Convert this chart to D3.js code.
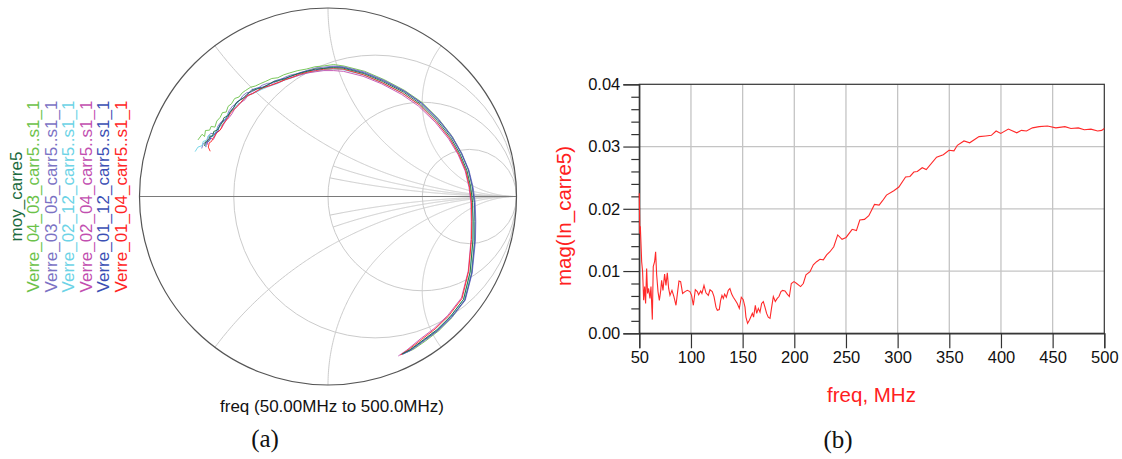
<!DOCTYPE html>
<html><head><meta charset="utf-8">
<script src="https://cdn.jsdelivr.net/npm/d3@7"></script>
<style>
html,body{margin:0;padding:0;background:#fff;}
svg{display:block;}
text{font-family:"Liberation Sans",Arial,sans-serif;}
</style></head>
<body>
<svg id="c" width="1122" height="459"></svg>
<script>
// ---------------- DATA ----------------
const seriesNames = ["moy_carre5","Verre_04_03_carr5..s1_1","Verre_03_05_carr5..s1_1","Verre_02_12_carr5..s1_1","Verre_02_04_carr5..s1_1","Verre_01_12_carr5..s1_1","Verre_01_04_carr5..s1_1"];
const seriesColors = ["#1d6b3e","#6cc24a","#7b72c4","#6cd3e6","#c24fb0","#3b4fb4","#ff2424"];

// Smith chart traces: reflection coefficient [re, im], 50 MHz -> 500 MHz
const moy_carre5 = [[-0.655,0.268],[-0.650,0.290],[-0.632,0.300],[-0.628,0.318],[-0.612,0.322],[-0.606,0.345],[-0.588,0.352],[-0.578,0.368],[-0.560,0.395],[-0.552,0.418],[-0.532,0.428],[-0.520,0.445],[-0.500,0.472],[-0.486,0.497],[-0.466,0.512],[-0.448,0.522],[-0.428,0.543],[-0.402,0.562],[-0.376,0.571],[-0.348,0.576],[-0.320,0.593],[-0.290,0.608],[-0.258,0.616],[-0.228,0.624],[-0.198,0.639],[-0.155,0.652],[-0.110,0.664],[-0.068,0.676],[-0.025,0.679],[0.028,0.684],[0.080,0.681],[0.190,0.652],[0.290,0.610],[0.400,0.554],[0.490,0.491],[0.580,0.403],[0.650,0.314],[0.700,0.227],[0.737,0.139],[0.757,0.051],[0.767,-0.031],[0.770,-0.131],[0.769,-0.231],[0.754,-0.401],[0.719,-0.546],[0.650,-0.636],[0.578,-0.707],[0.506,-0.761],[0.435,-0.813],[0.392,-0.836]];
const verre_04_03 = [[-0.690,0.300],[-0.668,0.330],[-0.655,0.318],[-0.650,0.350],[-0.628,0.352],[-0.620,0.372],[-0.600,0.368],[-0.590,0.400],[-0.572,0.420],[-0.560,0.445],[-0.540,0.448],[-0.530,0.478],[-0.512,0.492],[-0.495,0.520],[-0.472,0.528],[-0.455,0.550],[-0.438,0.562],[-0.410,0.580],[-0.386,0.586],[-0.356,0.600],[-0.330,0.611],[-0.298,0.626],[-0.266,0.630],[-0.236,0.645],[-0.205,0.655],[-0.160,0.668],[-0.115,0.676],[-0.070,0.688],[-0.020,0.693],[0.030,0.700],[0.085,0.692],[0.195,0.664],[0.298,0.620],[0.406,0.563],[0.499,0.499],[0.588,0.410],[0.658,0.320],[0.708,0.231],[0.745,0.141],[0.765,0.050],[0.776,-0.032],[0.779,-0.133],[0.777,-0.236],[0.761,-0.406],[0.725,-0.550],[0.658,-0.642],[0.588,-0.712],[0.518,-0.766],[0.455,-0.810],[0.420,-0.826]];
const verre_03_05 = [[-0.670,0.255],[-0.662,0.280],[-0.640,0.292],[-0.636,0.318],[-0.622,0.335],[-0.602,0.332],[-0.592,0.345],[-0.585,0.372],[-0.570,0.392],[-0.548,0.400],[-0.538,0.422],[-0.525,0.455],[-0.506,0.480],[-0.490,0.490],[-0.470,0.507],[-0.452,0.535],[-0.432,0.550],[-0.405,0.555],[-0.380,0.568],[-0.350,0.590],[-0.322,0.600],[-0.292,0.602],[-0.262,0.614],[-0.230,0.632],[-0.200,0.644],[-0.152,0.654],[-0.108,0.670],[-0.065,0.682],[-0.022,0.686],[0.030,0.692],[0.082,0.688],[0.194,0.660],[0.296,0.617],[0.406,0.560],[0.498,0.496],[0.589,0.407],[0.659,0.318],[0.710,0.229],[0.748,0.139],[0.770,0.048],[0.781,-0.034],[0.784,-0.134],[0.782,-0.237],[0.765,-0.406],[0.728,-0.551],[0.657,-0.641],[0.584,-0.711],[0.512,-0.765],[0.442,-0.815],[0.402,-0.834]];
const verre_02_12 = [[-0.705,0.238],[-0.690,0.262],[-0.668,0.270],[-0.662,0.292],[-0.645,0.298],[-0.632,0.325],[-0.606,0.315],[-0.598,0.345],[-0.582,0.368],[-0.566,0.375],[-0.548,0.398],[-0.535,0.430],[-0.518,0.452],[-0.500,0.462],[-0.478,0.492],[-0.460,0.500],[-0.440,0.522],[-0.412,0.540],[-0.384,0.552],[-0.356,0.566],[-0.328,0.578],[-0.296,0.590],[-0.266,0.600],[-0.234,0.616],[-0.204,0.625],[-0.158,0.642],[-0.114,0.654],[-0.070,0.664],[-0.030,0.670],[0.024,0.676],[0.076,0.674],[0.184,0.646],[0.285,0.604],[0.394,0.549],[0.485,0.487],[0.575,0.400],[0.646,0.311],[0.696,0.225],[0.733,0.138],[0.754,0.050],[0.765,-0.030],[0.769,-0.130],[0.769,-0.230],[0.754,-0.400],[0.719,-0.545],[0.650,-0.636],[0.578,-0.707],[0.506,-0.761],[0.436,-0.813],[0.395,-0.838]];
const verre_02_04 = [[-0.640,0.275],[-0.638,0.300],[-0.622,0.310],[-0.608,0.302],[-0.600,0.318],[-0.592,0.340],[-0.578,0.348],[-0.566,0.360],[-0.552,0.385],[-0.540,0.405],[-0.525,0.418],[-0.510,0.438],[-0.495,0.465],[-0.478,0.482],[-0.460,0.500],[-0.440,0.514],[-0.425,0.538],[-0.398,0.548],[-0.372,0.562],[-0.344,0.578],[-0.316,0.586],[-0.285,0.596],[-0.254,0.608],[-0.224,0.622],[-0.194,0.630],[-0.150,0.644],[-0.106,0.656],[-0.064,0.662],[-0.022,0.668],[0.030,0.668],[0.082,0.664],[0.186,0.638],[0.284,0.598],[0.390,0.542],[0.480,0.480],[0.569,0.394],[0.640,0.306],[0.691,0.221],[0.728,0.135],[0.748,0.049],[0.758,-0.030],[0.760,-0.130],[0.759,-0.228],[0.744,-0.395],[0.708,-0.538],[0.636,-0.630],[0.562,-0.701],[0.488,-0.757],[0.418,-0.815],[0.373,-0.846]];
const verre_01_12 = [[-0.648,0.262],[-0.646,0.285],[-0.628,0.296],[-0.620,0.318],[-0.606,0.326],[-0.598,0.335],[-0.584,0.346],[-0.575,0.378],[-0.562,0.400],[-0.545,0.408],[-0.530,0.426],[-0.518,0.452],[-0.502,0.470],[-0.485,0.500],[-0.464,0.515],[-0.446,0.525],[-0.430,0.541],[-0.404,0.566],[-0.378,0.575],[-0.348,0.580],[-0.318,0.591],[-0.286,0.612],[-0.256,0.621],[-0.226,0.628],[-0.196,0.637],[-0.152,0.656],[-0.108,0.667],[-0.066,0.672],[-0.024,0.680],[0.028,0.688],[0.081,0.685],[0.192,0.656],[0.294,0.614],[0.404,0.558],[0.496,0.495],[0.586,0.406],[0.656,0.317],[0.707,0.229],[0.745,0.141],[0.766,0.052],[0.777,-0.031],[0.780,-0.132],[0.779,-0.234],[0.763,-0.405],[0.726,-0.549],[0.655,-0.639],[0.582,-0.710],[0.509,-0.763],[0.437,-0.815],[0.395,-0.837]];
const verre_01_04 = [[-0.625,0.240],[-0.635,0.262],[-0.630,0.285],[-0.618,0.292],[-0.612,0.305],[-0.600,0.322],[-0.590,0.338],[-0.572,0.352],[-0.558,0.382],[-0.545,0.398],[-0.530,0.420],[-0.515,0.446],[-0.498,0.462],[-0.482,0.478],[-0.462,0.500],[-0.445,0.520],[-0.426,0.535],[-0.400,0.546],[-0.374,0.562],[-0.346,0.576],[-0.318,0.585],[-0.287,0.596],[-0.256,0.608],[-0.226,0.620],[-0.196,0.630],[-0.152,0.648],[-0.108,0.660],[-0.066,0.668],[-0.024,0.675],[0.028,0.678],[0.080,0.676],[0.188,0.646],[0.287,0.604],[0.395,0.548],[0.485,0.486],[0.574,0.398],[0.644,0.310],[0.694,0.224],[0.731,0.137],[0.751,0.050],[0.761,-0.031],[0.763,-0.131],[0.761,-0.229],[0.746,-0.397],[0.711,-0.541],[0.641,-0.632],[0.568,-0.703],[0.496,-0.759],[0.425,-0.814],[0.385,-0.841]];

// Smith grid values
const resistanceCircles = [1/3, 1, 3];
const reactanceArcsFull = [0.5, 1, 2, -0.5, -1, -2];
const reactanceArcsPartial = [0.2, 1/3, -0.2, -1/3];

// Rectangular plot: mag(In_carre5) vs freq (MHz)
const freqMHz = [50,50.5,51,52.3,53.2,54.2,55.2,56.1,57.1,58,59,60.3,61.3,62.6,63.5,64.8,65.8,66.8,68.1,69.4,70.6,71.6,72.9,74.5,75.8,77.1,78.4,79.7,81.6,83.5,85.5,87.1,88.4,90,91.9,94.2,96.5,99,100.6,102.3,104.2,106.1,107.4,109.4,110.6,112.6,114.5,116.8,118.4,120.6,122.3,124.2,125.5,127.4,128.7,130,131.3,132.6,134.2,136.1,137.7,139.4,141,142.9,144.8,146.8,148.7,150.6,152.3,153.2,154.8,156.5,158.1,159.4,160.6,162.3,163.6,165.2,166.8,168.4,170,171.6,173.2,174.8,176.5,178.1,179.7,181.6,183.5,185.2,187.1,188.7,191,193.2,195.2,197.1,199.7,202.3,206.1,208.7,211.3,215.2,218.4,221.6,224.8,228.1,231.3,234.5,238.2,242,246.2,250.1,256,260.1,263.4,267.9,272.1,277.6,282.1,285.4,289.2,296.3,301.2,307.7,311.9,315.7,319,323.8,327.7,337.7,344.2,349.7,354.5,357.8,364.2,369.7,378.8,385.3,390.7,395.3,399.8,407.2,415.3,419.8,424.7,430.5,437,445,453.1,461.9,467.7,474.8,480.6,487.1,493.6,497.5,500];
const magIn = [0.0225,0.0160,0.0172,0.0115,0.0099,0.0053,0.0075,0.0048,0.0104,0.0064,0.0072,0.0056,0.0075,0.0022,0.0107,0.0115,0.0131,0.0094,0.0067,0.0053,0.0067,0.0085,0.0069,0.0095,0.0077,0.0097,0.0072,0.0061,0.0069,0.0059,0.0045,0.0067,0.0084,0.0083,0.0064,0.0067,0.0069,0.0067,0.0061,0.0045,0.0070,0.0067,0.0062,0.0068,0.0064,0.0077,0.0065,0.0061,0.0070,0.0067,0.0059,0.0042,0.0037,0.0038,0.0053,0.0061,0.0056,0.0063,0.0058,0.0069,0.0072,0.0063,0.0058,0.0053,0.0048,0.0040,0.0058,0.0054,0.0042,0.0026,0.0016,0.0021,0.0027,0.0032,0.0026,0.0045,0.0032,0.0040,0.0034,0.0048,0.0051,0.0042,0.0032,0.0026,0.0024,0.0042,0.0059,0.0051,0.0056,0.0059,0.0067,0.0069,0.0068,0.0063,0.0059,0.0080,0.0083,0.0080,0.0075,0.0080,0.0094,0.0099,0.0110,0.0115,0.0119,0.0118,0.0126,0.0131,0.0139,0.0158,0.0151,0.0154,0.0167,0.0165,0.0182,0.0183,0.0189,0.0207,0.0206,0.0213,0.0222,0.0229,0.0235,0.0251,0.0252,0.0259,0.0260,0.0266,0.0263,0.0283,0.0287,0.0294,0.0293,0.0302,0.0309,0.0306,0.0316,0.0317,0.0318,0.0325,0.0321,0.0328,0.0322,0.0326,0.0325,0.0330,0.0332,0.0333,0.0330,0.0332,0.0329,0.0330,0.0327,0.0328,0.0325,0.0326,0.0329];
const xTicks = [50,100,150,200,250,300,350,400,450,500];
const yTicks = [0.00,0.01,0.02,0.03,0.04];
const yTickLabels = ["0.00","0.01","0.02","0.03","0.04"];
const yMinorTicks = [0.002,0.004,0.006,0.008,0.012,0.014,0.016,0.018,0.022,0.024,0.026,0.028,0.032,0.034,0.036,0.038];

// ---------------- DRAW ----------------
const svg = d3.select("#c");
const serif = '"Liberation Serif","DejaVu Serif",serif';

// ===== Smith chart (a) =====
const sx = d3.scaleLinear().domain([-1,1]).range([139.5,516.5]);
const sy = d3.scaleLinear().domain([-1,1]).range([385,8]);
const pr = v => sx(v) - sx(0);
const smith = svg.append("g");
const gridCol = "#cbcbcb";

resistanceCircles.forEach(r => {
  smith.append("circle").attr("cx", sx(r/(1+r))).attr("cy", sy(0)).attr("r", pr(1/(1+r)))
    .attr("fill","none").attr("stroke",gridCol).attr("stroke-width",1);
});
function gammaOf(r, x){
  const den = (r+1)*(r+1) + x*x;
  return [ (r*r + x*x - 1)/den, (2*x)/den ];
}
const arcLine = d3.line().x(d=>sx(d[0])).y(d=>sy(d[1]));
function drawArc(x, rMin){
  const pts = [];
  for (let i=0;i<=400;i++){
    const t = i/400;
    const r = rMin + Math.tan(t*Math.PI/2*0.995)*3;
    pts.push(gammaOf(r, x));
  }
  pts.push([1,0]);
  smith.append("path").attr("d", arcLine(pts)).attr("fill","none").attr("stroke",gridCol).attr("stroke-width",1);
}
reactanceArcsFull.forEach(x => drawArc(x, 0));
reactanceArcsPartial.forEach(x => drawArc(x, 1));

smith.append("line").attr("x1", sx(-1)).attr("x2", sx(1)).attr("y1", sy(0)).attr("y2", sy(0))
  .attr("stroke","#7a7a7a").attr("stroke-width",1.2);
smith.append("circle").attr("cx", sx(0)).attr("cy", sy(0)).attr("r", pr(1))
  .attr("fill","none").attr("stroke","#555").attr("stroke-width",1.2);

const traces = [moy_carre5, verre_04_03, verre_03_05, verre_02_12, verre_02_04, verre_01_12, verre_01_04];
const drawOrder = [1,2,3,4,6,5,0];
const tl = d3.line().x(d=>sx(d[0])).y(d=>sy(d[1]));
drawOrder.forEach(i => {
  smith.append("path").attr("d", tl(traces[i])).attr("fill","none")
    .attr("stroke", seriesColors[i]).attr("stroke-width",0.9);
});

// legend (rotated)
const legX = [21.5, 39, 56.5, 74, 91.5, 109, 126.5];
seriesNames.forEach((n,i) => {
  svg.append("text").attr("transform", `translate(${legX[i]},${sy(0)}) rotate(-90)`)
    .attr("text-anchor","middle").attr("font-size",17).attr("fill",seriesColors[i]).text(n);
});

svg.append("text").attr("x",332).attr("y",412).attr("text-anchor","middle")
  .attr("font-size",17).attr("fill","#111").text("freq (50.00MHz to 500.0MHz)");
svg.append("text").attr("x",265).attr("y",447).attr("text-anchor","middle")
  .style("font-family",serif).attr("font-size",25).attr("fill","#111").text("(a)");

// ===== Rectangular plot (b) =====
const x = d3.scaleLinear().domain([50,500]).range([639.3,1104.3]);
const y = d3.scaleLinear().domain([0,0.04]).range([333.3,84.3]);
const rect = svg.append("g");

xTicks.slice(1,-1).forEach(t => {
  rect.append("line").attr("x1",x(t)).attr("x2",x(t)).attr("y1",y(0)).attr("y2",y(0.04))
    .attr("stroke","#c4c4c4").attr("stroke-width",1.3);
});
yTicks.slice(1,-1).forEach(t => {
  rect.append("line").attr("x1",x(50)).attr("x2",x(500)).attr("y1",y(t)).attr("y2",y(t))
    .attr("stroke","#c4c4c4").attr("stroke-width",1.3);
});
rect.append("rect").attr("x",x(50)).attr("y",y(0.04)).attr("width",x(500)-x(50)).attr("height",y(0)-y(0.04))
  .attr("fill","none").attr("stroke","#333").attr("stroke-width",1.2);

const xAxis = d3.axisBottom(x).tickValues(xTicks).tickSize(15).tickPadding(3).tickFormat(d3.format("d"));
const gx = rect.append("g").attr("transform",`translate(0,${y(0)})`).call(xAxis);
gx.select(".domain").attr("stroke","#333").attr("stroke-width",1.2);
gx.selectAll(".tick line").attr("stroke","#333").attr("stroke-width",1.2);
gx.selectAll(".tick text").attr("font-size",16.5).attr("fill","#111").style("font-family",'"Liberation Sans",Arial,sans-serif');

const yAxis = d3.axisLeft(y).tickValues(yTicks).tickSize(16).tickPadding(3).tickFormat((d,i)=>yTickLabels[i]);
const gy = rect.append("g").attr("transform",`translate(${x(50)},0)`).call(yAxis);
gy.select(".domain").attr("stroke","#333").attr("stroke-width",1.2);
gy.selectAll(".tick line").attr("stroke","#333").attr("stroke-width",1.2);
gy.selectAll(".tick text").attr("font-size",16.5).attr("fill","#111").style("font-family",'"Liberation Sans",Arial,sans-serif');
const yMinor = d3.axisLeft(y).tickValues(yMinorTicks).tickSize(8).tickFormat("");
const gym = rect.append("g").attr("transform",`translate(${x(50)},0)`).call(yMinor);
gym.select(".domain").remove();
gym.selectAll(".tick line").attr("stroke","#333").attr("stroke-width",1.2);

const dl = d3.line().x((d,i)=>x(freqMHz[i])).y(d=>y(d));
rect.append("path").attr("d", dl(magIn)).attr("fill","none").attr("stroke","#ff2a2a").attr("stroke-width",1.1);

svg.append("text").attr("transform",`translate(571,216) rotate(-90)`).attr("text-anchor","middle")
  .attr("font-size",20.5).attr("fill","#ff2020").text("mag(In_carre5)");
svg.append("text").attr("x",871.5).attr("y",402).attr("text-anchor","middle")
  .attr("font-size",20.5).attr("fill","#ff2020").text("freq, MHz");
svg.append("text").attr("x",838).attr("y",448).attr("text-anchor","middle")
  .style("font-family",serif).attr("font-size",25).attr("fill","#111").text("(b)");
</script>
</body></html>
